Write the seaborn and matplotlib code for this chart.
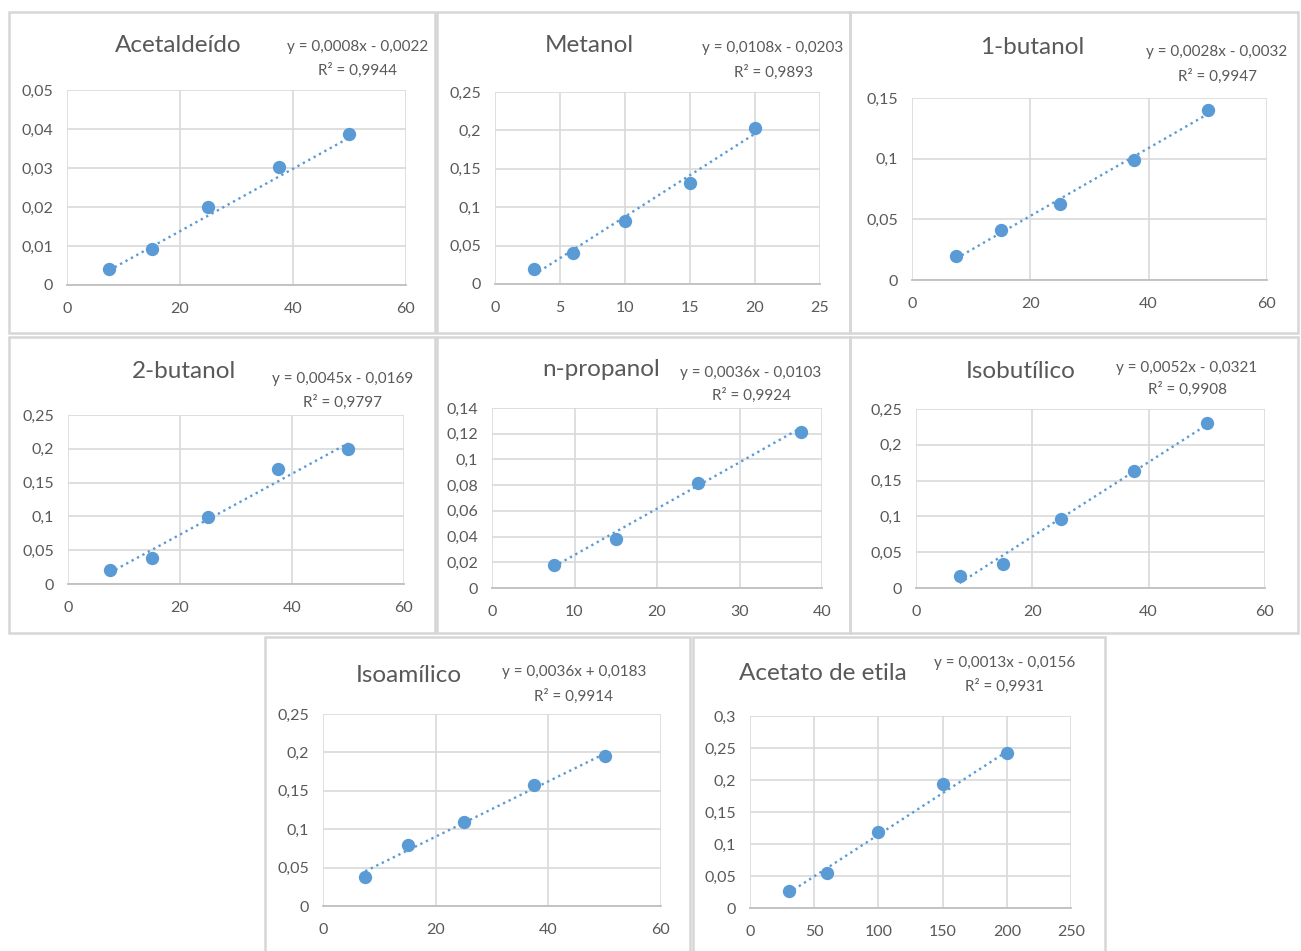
import matplotlib
matplotlib.use("Agg")
import matplotlib.pyplot as plt
from matplotlib.patches import Rectangle
import numpy as np
import pandas as pd
import seaborn as sns

# ---- calibration data (concentration vs. peak-area ratio) ----
titles = ["Acetaldeído", "Metanol", "1-butanol", "2-butanol",
          "n-propanol", "Isobutílico", "Isoamílico", "Acetato de etila"]

acetaldeido_x = [7.5, 15, 25, 37.5, 50]
acetaldeido_y = [0.0040, 0.0093, 0.0199, 0.0302, 0.0386]

metanol_x = [3, 6, 10, 15, 20]
metanol_y = [0.019, 0.040, 0.082, 0.132, 0.203]

butanol1_x = [7.5, 15, 25, 37.5, 50]
butanol1_y = [0.020, 0.041, 0.063, 0.099, 0.140]

butanol2_x = [7.5, 15, 25, 37.5, 50]
butanol2_y = [0.020, 0.039, 0.099, 0.170, 0.200]

propanol_x = [7.5, 15, 25, 37.5]
propanol_y = [0.018, 0.038, 0.082, 0.121]

isobutilico_x = [7.5, 15, 25, 37.5, 50]
isobutilico_y = [0.017, 0.033, 0.096, 0.163, 0.230]

isoamilico_x = [7.5, 15, 25, 37.5, 50]
isoamilico_y = [0.038, 0.080, 0.109, 0.157, 0.195]

acetato_x = [30, 60, 100, 150, 200]
acetato_y = [0.026, 0.055, 0.118, 0.193, 0.242]

# linear trendlines
slopes = [0.0008, 0.0108, 0.0028, 0.0045, 0.0036, 0.0052, 0.0036, 0.0013]
intercepts = [-0.0022, -0.0203, -0.0032, -0.0169, -0.0103, -0.0321, 0.0183, -0.0156]
r_squared = [0.9944, 0.9893, 0.9947, 0.9797, 0.9924, 0.9908, 0.9914, 0.9931]

# axis scales
x_max = [60, 25, 60, 60, 40, 60, 60, 250]
x_step = [20, 5, 20, 20, 10, 20, 20, 50]
y_max = [0.05, 0.25, 0.15, 0.25, 0.14, 0.25, 0.25, 0.3]
y_step = [0.01, 0.05, 0.05, 0.05, 0.02, 0.05, 0.05, 0.05]

xs = [acetaldeido_x, metanol_x, butanol1_x, butanol2_x,
      propanol_x, isobutilico_x, isoamilico_x, acetato_x]
ys = [acetaldeido_y, metanol_y, butanol1_y, butanol2_y,
      propanol_y, isobutilico_y, isoamilico_y, acetato_y]

# ---- layout (pixel boxes: left, top, right, bottom) ----
W, H = 1301, 951
plot_boxes = [(67, 90, 406, 285), (495, 92, 820, 284), (912, 98, 1267, 280),
              (68, 415, 404, 584), (492, 408, 822, 588), (916, 409, 1265, 588),
              (323, 714, 661, 906), (750, 716, 1071, 908)]
frame_boxes = [(9, 12, 435, 333), (437, 12, 850, 333), (850, 12, 1298, 333),
               (9, 337, 435, 633), (437, 337, 850, 633), (850, 337, 1298, 633),
               (265, 637, 690, 960), (693, 637, 1105, 960)]
title_pos = [(178, 46), (589, 45), (1032, 48), (184, 372),
             (601, 370), (1021, 372), (409, 675), (823, 673)]
eq_pos = [(358, 47, 70), (773, 48, 72), (1217, 52, 76), (343, 379, 402),
          (751, 373, 395), (1187, 368, 389), (574, 672, 696), (1005, 663, 686)]

BLUE = "#5B9BD5"
GRID = "#D9D9D9"
TEXT = "#595959"

sns.set_theme(style="white")
plt.rcParams["font.family"] = ["Lato", "DejaVu Sans"]

fig = plt.figure(figsize=(W / 100, H / 100), dpi=100)
fig.patch.set_facecolor("white")


def dec(v, nd=None):
    s = f"{v:.{nd}f}" if nd is not None else f"{round(v, 4):g}"
    return s.replace(".", ",")


for (l, t, r, b) in frame_boxes:
    fig.patches.append(Rectangle((l / W, 1 - b / H), (r - l) / W, (b - t) / H,
                                 transform=fig.transFigure, fill=False,
                                 edgecolor="#D6D6D6", linewidth=1.8, zorder=0))

for i in range(8):
    l, t, r, b = plot_boxes[i]
    ax = fig.add_axes([l / W, 1 - b / H, (r - l) / W, (b - t) / H])
    df = pd.DataFrame({"x": xs[i], "y": ys[i]})

    # dotted trendline across the measured range
    x_fit = np.array([min(xs[i]), max(xs[i])])
    fit = pd.DataFrame({"x": x_fit, "y": slopes[i] * x_fit + intercepts[i]})
    sns.lineplot(data=fit, x="x", y="y", ax=ax, color=BLUE, linewidth=1.7,
                 linestyle=(0, (1, 1.6)), zorder=3)
    sns.scatterplot(data=df, x="x", y="y", ax=ax, color=BLUE, s=92,
                    edgecolor=BLUE, linewidth=0, zorder=4, clip_on=False)

    ax.set_xlim(0, x_max[i])
    ax.set_ylim(0, y_max[i])
    xt = np.arange(0, x_max[i] + x_step[i] / 2, x_step[i])
    yt = np.arange(0, y_max[i] + y_step[i] / 2, y_step[i])
    ax.set_xticks(xt)
    ax.set_yticks(yt)
    ax.set_xticklabels([dec(v) for v in xt])
    ax.set_yticklabels([dec(v) for v in yt])
    ax.set_xlabel("")
    ax.set_ylabel("")
    ax.grid(True, color=GRID, linewidth=1.2)
    ax.set_axisbelow(True)
    for side in ("top", "right", "left"):
        ax.spines[side].set_visible(False)
    ax.spines["bottom"].set_color("#BFBFBF")
    ax.spines["bottom"].set_linewidth(1.3)
    ax.tick_params(axis="both", length=0, labelsize=11.5, labelcolor=TEXT)
    ax.tick_params(axis="y", pad=10)
    ax.tick_params(axis="x", pad=12)

    tx, ty = title_pos[i]
    fig.text(tx / W, 1 - ty / H, titles[i], ha="center", va="center",
             fontsize=17.5, color=TEXT)
    ex, ey1, ey2 = eq_pos[i]
    sign = "+" if intercepts[i] >= 0 else "-"
    fig.text(ex / W, 1 - ey1 / H,
             f"y = {dec(slopes[i], 4)}x {sign} {dec(abs(intercepts[i]), 4)}",
             ha="center", va="center", fontsize=11, color=TEXT)
    fig.text(ex / W, 1 - ey2 / H, f"R² = {dec(r_squared[i], 4)}",
             ha="center", va="center", fontsize=11, color=TEXT)

fig.savefig("out.png", dpi=100, facecolor="white")
